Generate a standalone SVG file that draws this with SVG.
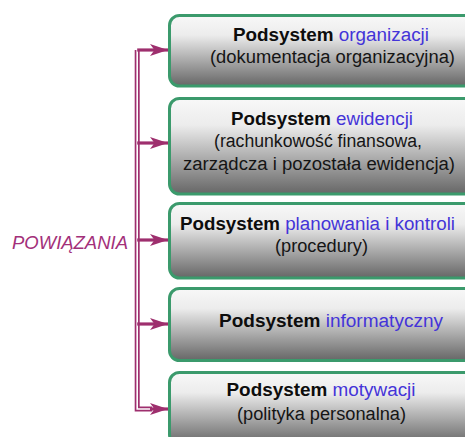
<svg xmlns="http://www.w3.org/2000/svg" width="465" height="437" viewBox="0 0 465 437">
  <defs>
    <linearGradient id="boxFill" x1="0" y1="0" x2="0" y2="1">
      <stop offset="0" stop-color="#f8f8f8"/>
      <stop offset="0.28" stop-color="#ececec"/>
      <stop offset="1" stop-color="#666666"/>
    </linearGradient>
    <marker id="barb" viewBox="0 0 19 13" refX="18.5" refY="6.5" markerWidth="19" markerHeight="13" markerUnits="userSpaceOnUse" orient="auto">
      <path d="M18.5,6.5 L0.5,0.5 L5,6.5 L0.5,12.5 Z" fill="#9e2f6e"/>
    </marker>
    <style>
      .box { fill: url(#boxFill); stroke: #3b9a6c; stroke-width: 3; }
      .t { font-family: "Liberation Sans", Arial, sans-serif; font-size: 18px; text-anchor: middle; fill: #151515; }
      .b { font-weight: bold; fill: #0d0d0d; }
      .hl { fill: #4434d8; }
      .wire { fill: none; stroke: #9e2f6e; stroke-width: 3.2; }
      .dbl { fill: none; stroke: #9e2f6e; stroke-width: 5; stroke-linejoin: miter; }
      .dblgap { fill: none; stroke: #ffffff; stroke-width: 1.6; stroke-linejoin: miter; }
      .label { font-family: "Liberation Sans", Arial, sans-serif; font-size: 18px; font-style: italic; fill: #a3307a; }
    </style>
  </defs>

  <!-- connectors: double-line spine with a barbed arrow into each box -->
  <g id="connectors">
    <path class="dbl" d="M137.2,50 V409 H152"/>
    <path class="dblgap" d="M137.2,50 V409 H152"/>
    <path class="wire" d="M137.2,50 H168" marker-end="url(#barb)"/>
    <path class="wire" d="M137.2,143 H168" marker-end="url(#barb)"/>
    <path class="wire" d="M137.2,240 H168" marker-end="url(#barb)"/>
    <path class="wire" d="M137.2,324 H168" marker-end="url(#barb)"/>
    <path class="wire" d="M150,409 H168" marker-end="url(#barb)"/>
  </g>

  <g id="powiazania">
    <text class="label" x="12" y="248.5" textLength="116" lengthAdjust="spacingAndGlyphs">POWIĄZANIA</text>
  </g>

  <g id="organizacji">
    <rect class="box" x="169.5" y="15.5" width="320" height="70.5" rx="10"/>
    <text class="t" x="331" y="40.5" textLength="196" lengthAdjust="spacingAndGlyphs"><tspan class="b">Podsystem</tspan> <tspan class="hl">organizacji</tspan></text>
    <text class="t" x="332.5" y="63" textLength="245" lengthAdjust="spacingAndGlyphs">(dokumentacja organizacyjna)</text>
  </g>

  <g id="ewidencji">
    <rect class="box" x="169.5" y="98.5" width="320" height="95.5" rx="10"/>
    <text class="t" x="322" y="125" textLength="182" lengthAdjust="spacingAndGlyphs"><tspan class="b">Podsystem</tspan> <tspan class="hl">ewidencji</tspan></text>
    <text class="t" x="318" y="147" textLength="208" lengthAdjust="spacingAndGlyphs">(rachunkowość finansowa,</text>
    <text class="t" x="319" y="170" textLength="272" lengthAdjust="spacingAndGlyphs">zarządcza i pozostała ewidencja)</text>
  </g>

  <g id="planowania">
    <rect class="box" x="169.5" y="203.5" width="320" height="74.5" rx="10"/>
    <text class="t" x="317.5" y="229.5" textLength="275" lengthAdjust="spacingAndGlyphs"><tspan class="b">Podsystem</tspan> <tspan class="hl">planowania i kontroli</tspan></text>
    <text class="t" x="321.5" y="252" textLength="93" lengthAdjust="spacingAndGlyphs">(procedury)</text>
  </g>

  <g id="informatyczny">
    <rect class="box" x="169.5" y="288.5" width="320" height="72" rx="10"/>
    <text class="t" x="331" y="327" textLength="224" lengthAdjust="spacingAndGlyphs"><tspan class="b">Podsystem</tspan> <tspan class="hl">informatyczny</tspan></text>
  </g>

  <g id="motywacji">
    <rect class="box" x="169.5" y="372.5" width="320" height="72" rx="10"/>
    <text class="t" x="321" y="396" textLength="189" lengthAdjust="spacingAndGlyphs"><tspan class="b">Podsystem</tspan> <tspan class="hl">motywacji</tspan></text>
    <text class="t" x="321.5" y="419.5" textLength="169" lengthAdjust="spacingAndGlyphs">(polityka personalna)</text>
  </g>
</svg>
